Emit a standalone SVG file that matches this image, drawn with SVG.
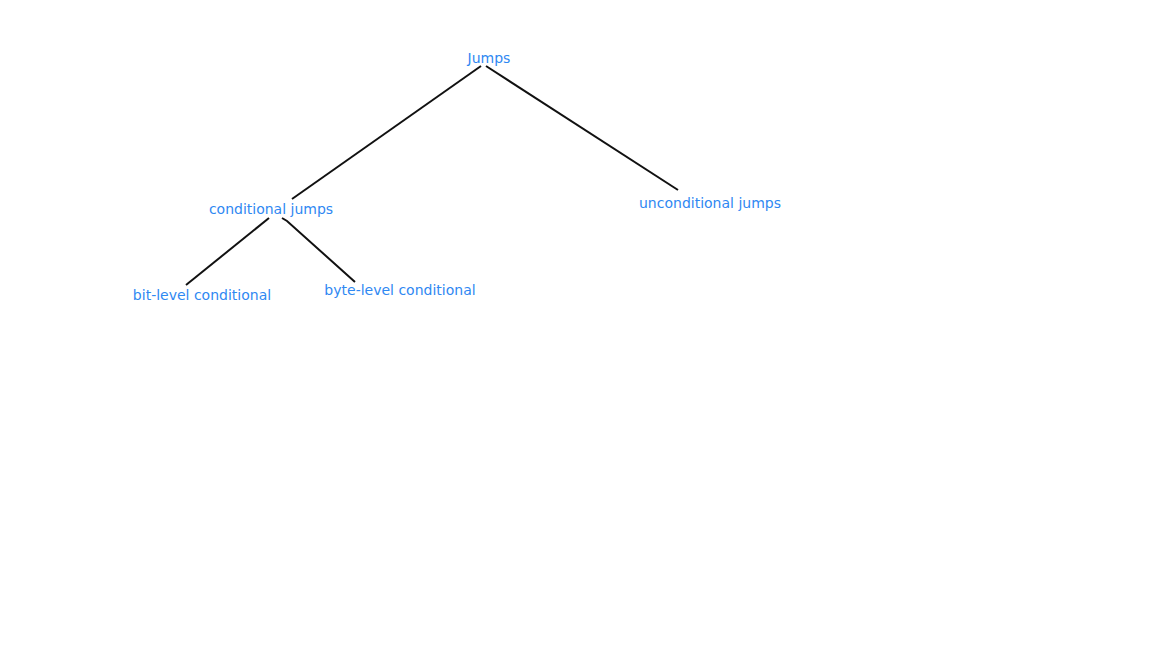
<svg xmlns="http://www.w3.org/2000/svg" width="1168" height="657" viewBox="0 0 1168 657">
<style>
.lbl{font-family:"DejaVu Sans",Verdana,sans-serif;font-size:14px;fill:#2f88f2;text-anchor:middle}
.edge{stroke:#111;stroke-width:2;fill:none}
</style>
<rect width="1168" height="657" fill="#fff"/>
<g id="connectors">
<line class="edge" x1="481" y1="66" x2="292" y2="199"/>
<line class="edge" x1="486" y1="66" x2="678" y2="190"/>
<line class="edge" x1="269" y1="218" x2="186" y2="285"/>
<polyline class="edge" points="282,218 287,221 355,282"/>
</g>
<g id="n-jumps"><text class="lbl" x="489" y="63">Jumps</text></g>
<g id="n-cond"><text class="lbl" x="271" y="214">conditional jumps</text></g>
<g id="n-uncond"><text class="lbl" x="710" y="208">unconditional jumps</text></g>
<g id="n-bit"><text class="lbl" x="202" y="300">bit-level conditional</text></g>
<g id="n-byte"><text class="lbl" x="400" y="295">byte-level conditional</text></g>
</svg>
